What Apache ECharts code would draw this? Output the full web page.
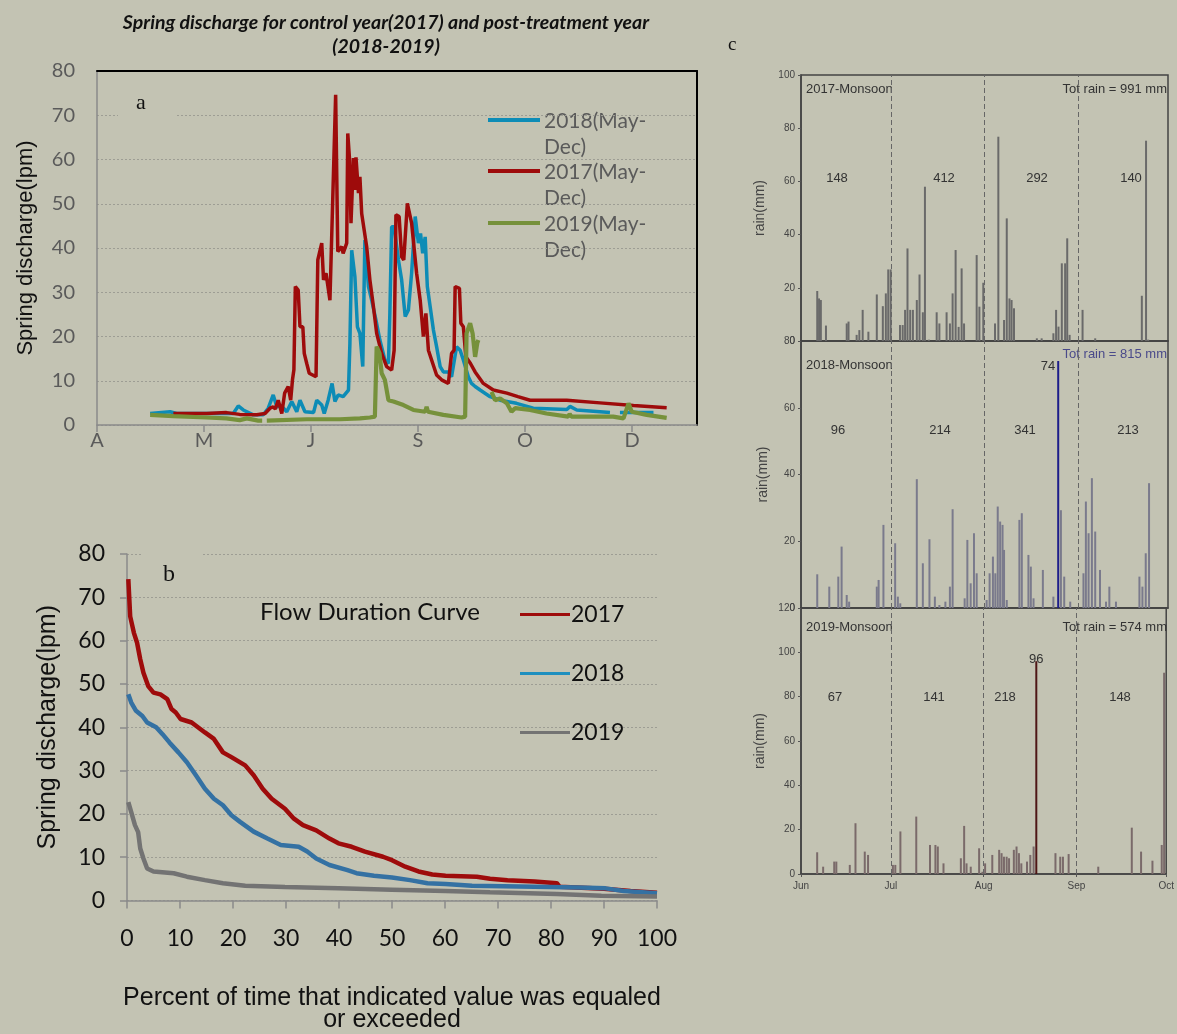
<!DOCTYPE html>
<html>
<head>
<meta charset="utf-8">
<script src="https://cdn.jsdelivr.net/npm/echarts@6/dist/echarts.min.js"></script>
<style>
  html, body { margin: 0; padding: 0; background: #c3c3b3; }
  #main { position: absolute; left: 0; top: 0; width: 1177px; height: 1034px; }
  #rain { position: absolute; left: 720px; top: 55px; width: 457px; height: 850px; filter: blur(0.6px); }
</style>
</head>
<body>
<div id="main"></div>
<div id="rain"></div>
<script>
// ---------- Panel a: daily spring discharge (lpm); x = days along the axis (30 per tick) ----------
const monthTicksA = ['A', 'M', 'J', 'S', 'O', 'D'];

const discharge2018 = [
  [14.9,2.6],[20.5,3.0],[22.3,2.6],[30.7,2.6],[38.2,2.6],[39.6,4.3],[41,3.4],[43.8,2.3],[46.6,2.3],[48,3.8],
  [49.4,6.8],[50.4,4.1],[51.5,4.5],[53.2,3.0],[54.6,5.3],[56,3.0],[56.9,5.6],[58.3,3.0],[60.7,2.8],[61.6,5.6],
  [63,4.5],[63.7,2.6],[64.8,5.6],[65.9,9.4],[66.7,5.3],[67.6,6.8],[69,6.4],[70.5,7.9],[70.9,18.5],[71.4,39.5],
  [72.3,33.5],[73,22.2],[73.7,20.7],[74.5,13.2],[75.1,41.8],[76.1,31.3],[77,28.2],[78.2,23.7],[79.3,19.2],[80.7,14.7],
  [81.7,13.9],[82.1,25.2],[82.6,44.8],[83.3,44.8],[84.5,37.3],[85.4,32.8],[86.4,24.5],[87.3,26],[88.2,34.3],[89.2,47.1],
  [90.1,41.1],[90.7,43.3],[91.3,38.8],[92,42.5],[92.6,31.3],[93.4,26.7],[94.3,21.5],[95.2,17.7],[96.2,13.2],[97.1,12],
  [98.5,12],[99.4,10.9],[100.8,17.7],[101.8,16.9],[102.7,14.7],[104.1,10.9],[105,9.4],[106,8.7],[107.4,7.9],[110.2,6.4],
  [113,5.6],[117.6,4.9],[122.3,3.8],[131.7,3.5],[132.6,4.2],[134.5,3.4],[141,3.0],[143.8,2.8],[145,'-'],[146.6,2.8],[156,2.8]
];

const discharge2017 = [
  [21.4,2.6],[30.7,2.6],[36.3,2.8],[40,2.4],[44.8,2.3],[47.1,2.6],[48.5,3.8],[49.4,4.1],[50,3.6],[50.8,5.6],
  [51.8,2.6],[52.6,7.2],[53.6,8.7],[54.3,5.6],[54.8,10.2],[55.2,12.5],[55.6,31.3],[56.4,30.5],[56.9,22.2],[57.7,22.2],
  [58.1,16.2],[58.8,13.9],[59.5,11.7],[61.4,10.9],[61.9,37.3],[62.4,37.5],[63,41.1],[63.5,32.8],[64.2,34.3],[65.3,28.2],
  [66.9,74.6],[67.5,39.2],[68.6,40.3],[69,38.8],[70,41.1],[70.3,65.9],[70.8,60],[71.2,45.6],[71.9,60.3],[72.3,53.1],
  [72.6,60.5],[73.3,52.4],[73.7,56.1],[74.2,47.8],[75.6,40.3],[76.5,32.8],[77.5,26.7],[78.4,20.7],[79.8,16.2],[81.2,13.2],
  [82.6,12.4],[83.3,16.9],[83.8,47.5],[84.7,47.1],[85.4,38],[86,37.3],[87,50.1],[88.2,45.6],[89.6,34.3],[90.6,28.2],
  [91.5,20],[92.2,25.2],[92.9,16.9],[93.8,14.7],[95.2,11.3],[96.6,10.2],[98.5,9.4],[99.4,16.2],[100.1,16.9],[100.4,31.3],
  [101.6,30.9],[102,23],[102.7,22.2],[103.4,15.4],[104.7,13.9],[106,12],[108.3,9.4],[111.1,7.9],[114.9,7.2],[118,6.4],
  [121.4,5.6],[131.7,5.6],[141,5.0],[150.4,4.4],[159.7,3.9]
];

const discharge2019 = [
  [14.9,2.3],[21.4,2.0],[30.7,1.7],[36.3,1.5],[40,1.1],[42,1.5],[45.2,1.0],[46.3,1.0],[47,'-'],[47.6,1.0],
  [58.8,1.3],[68.1,1.3],[73.7,1.5],[76.5,1.7],[77.9,1.9],[78.4,17.7],[79.2,16.2],[79.8,11.7],[80.7,10.2],[81.7,5.6],
  [83.1,5.3],[85.9,4.5],[88.7,3.4],[92,3.0],[92.4,4.1],[92.8,3.0],[97.1,2.3],[102.2,1.7],[103.2,1.9],[103.6,20.7],
  [104.6,23],[105.3,20.7],[106,15.4],[106.6,18.5],[106.9,19.2],[108,'-'],[110.6,7.5],[111.6,5.6],[113,6.0],[114.9,4.9],
  [116.2,3.0],[117.2,3.8],[121.4,3.4],[126,2.6],[132.1,1.9],[132.5,2.5],[133,1.9],[144.7,1.9],[147.6,1.5],[149,4.9],
  [149.9,3.0],[154.1,2.3],[159.7,1.6]
];

// ---------- Panel b: flow duration curves (percent of time exceeded, lpm) ----------
const fdc2017 = [
  [0.25,74.2],[0.6,65.6],[1.3,61.8],[1.9,59.5],[2.5,55.7],[3.1,52.6],[4,49.5],[5,48],[6.3,47.6],[7.6,46.5],
  [8.4,44.2],[9.2,43.4],[10.1,41.9],[12.2,41.1],[14.7,38.8],[16.4,37.3],[18.1,34.2],[19.7,33.1],[22.3,31.2],[23.9,28.9],
  [25.6,25.8],[27.3,23.5],[29.8,21.2],[31.5,18.9],[33.2,17.4],[35.7,16.2],[38.2,14.3],[39.9,13.2],[42.4,12.4],[44.9,11.3],
  [48.3,10.1],[50,9.3],[52.5,7.8],[55,6.7],[57.6,6.0],[60.1,5.7],[66,5.5],[68.5,5.0],[71.8,4.7],[76.9,4.4],
  [81.1,4.0],[81.6,3.2],[90,2.7],[95,2.2],[100,1.8]
];
const fdc2018 = [
  [0.25,47.6],[0.8,45.7],[1.7,43.8],[2.9,42.6],[3.8,41.1],[5.5,40],[6.7,38.4],[8,36.5],[9.7,34.2],[11.3,31.9],
  [13,28.9],[14.7,25.8],[16.4,23.5],[18.1,22],[19.7,19.7],[21.4,18.1],[23.9,15.9],[26.5,14.3],[29,12.8],[32.4,12.4],
  [34,11.3],[35.7,9.7],[38.2,8.2],[41.6,7.0],[43.3,6.3],[46.6,5.7],[50,5.3],[53.4,4.7],[56.7,4.0],[60.1,3.8],
  [65.1,3.4],[76.9,3.2],[85.3,3.0],[90.3,2.8],[93.7,2.2],[100,1.7]
];
const fdc2019 = [
  [0.25,22.7],[0.8,20.4],[1.5,17.4],[2.1,15.8],[2.5,12],[3.1,9.7],[3.8,7.4],[5,6.7],[8.8,6.3],[11.3,5.5],
  [14.7,4.7],[18.1,4.0],[22.3,3.4],[29.8,3.1],[39.9,2.8],[50,2.5],[60.1,2.2],[68.5,1.9],[81.1,1.5],[89.5,1.1],[100,0.9]
];

// ---------- Panel c: daily monsoon rainfall (mm); x = days from 1 June ----------
const rainMonths = ['Jun', 'Jul', 'Aug', 'Sep', 'Oct'];
const rainMonthStart = [0, 30, 61, 92, 122];

const rain2017 = [
  [5.4,18.8],[6,16],[6.6,15.4],[8.3,5.8],[15.2,6.6],[15.8,7.3],[18.5,2.3],[19.4,4.1],[20.5,11.7],[22.4,3.5],
  [25.2,17.5],[27.2,13.1],[28.2,17.9],[29,26.9],[29.8,26.9],[32.9,6],[33.8,6],[34.6,11.7],[35.4,34.8],[36.3,11.7],
  [37.2,11.7],[38.5,15.4],[39.4,25],[40.5,10.8],[41.2,58],[42.5,0.5],[45.1,10.8],[46,6.6],[48.4,10.8],[49.5,6.6],
  [50.4,17.9],[51.4,34.2],[52.4,5.3],[53.4,27.3],[54.2,6.6],[58.4,32.3],[59.3,12.9],[60.6,21.9],[64.5,6.6],[65.6,76.8],
  [67.5,7.9],[68.4,46.1],[69.3,16],[70,15.4],[70.8,12.3],[78.4,1],[80,1],[83.9,2.9],[84.8,11.7],[85.6,5.4],
  [86.7,29.2],[87.8,29.2],[88.5,38.6],[89.3,2.3],[93.6,11.7],[97.8,1],[113.3,17],[114.7,75.3],[115.4,0.5]
];
const rain2018 = [
  [5.4,10.1],[9.4,6.4],[12.4,9.4],[13.5,18.4],[15.2,3.9],[16,1.9],[25.2,6.4],[25.8,8.4],[27.4,24.9],[31.3,19.4],
  [32.2,3.4],[33,1.4],[38.5,38.6],[40.5,13.4],[42.7,20.6],[44.5,3.4],[46,0.9],[48,1.9],[49.5,6.4],[50.4,29.6],
  [54.4,2.9],[55.3,20.4],[56.4,7.4],[57.5,22.4],[58.4,10.4],[61.7,2.4],[62.7,10.4],[63.8,15.4],[64.6,10.4],[65.4,30.4],
  [66.2,25.9],[67,24.9],[67.5,17.4],[68.4,2.4],[72.6,26.4],[73.4,28.4],[75.6,15.9],[76.4,12.4],[77.3,2.9],[80.4,11.4],
  [83.9,3.4],[85.5,74],[86.4,29.3],[87.5,9.4],[89.5,1.9],[93.9,10.4],[94.7,31.9],[95.6,22.4],[96.7,38.9],[97.8,22.9],
  [99.4,11.4],[101.4,1.9],[102.5,6.4],[104.7,1.9],[112.5,9.4],[113.5,6.4],[114.6,16.4],[115.7,37.4]
];
const rain2019 = [
  [5.4,9.8],[7.4,3.3],[11.1,5.6],[11.8,5.6],[16.3,4.1],[18.2,22.9],[21.3,10.1],[22.4,8.6],[30.7,4.1],[31.5,4.1],
  [33.2,19.2],[38.5,25.9],[43.1,13.1],[44.9,13.1],[45.7,12.4],[47.6,4.8],[53.4,7.1],[54.5,21.7],[55.3,4.8],[56.7,3.3],
  [59.5,11.6],[60.6,1],[61.5,4.8],[63.9,8.6],[66.2,10.9],[67,9.4],[67.8,7.8],[68.7,7.8],[69.5,7.1],[71.1,10.9],
  [72,12.4],[72.8,9.4],[73.6,4.8],[75.5,5.6],[76.6,8.6],[77.7,12.4],[78.6,96],[85,9.4],[86.6,7.8],[87.5,7.8],
  [89.4,9],[99.3,3.3],[110.5,20.9],[113.6,10.1],[117.4,6],[120.5,13.1],[121.3,90.8]
];

const monsoonYears = ['2017', '2018', '2019'];
const seasonTotals = [991, 815, 574];
const monthTotals2017 = [148, 412, 292, 140];
const monthTotals2018 = [96, 214, 341, 213];
const monthTotals2019 = [67, 141, 218, 148];

// ---------- styling ----------
const CAL = 'Lato, "Open Sans", sans-serif';
const ARIAL = '"Liberation Sans", Arial, sans-serif';
const SERIF = '"Liberation Serif", "DejaVu Serif", serif';
const BG = '#c3c3b3';
const RED = '#9e0b0b', BLUE_A = '#0d8cb6', GREEN = '#76913b';
const BLUE_B = '#3471a3', GRAY_B = '#737373';
const GRID_LINE = { show: true, lineStyle: { color: '#9d9d94', type: [2, 2], width: 1 } };

const main = echarts.init(document.getElementById('main'));

main.setOption({
  animation: false,
  backgroundColor: BG,
  grid: [
    { left: 97, top: 71, width: 600, height: 354 },
    { left: 127, top: 554, width: 530, height: 348 }
  ],
  xAxis: [
    { gridIndex: 0, type: 'value', min: 0, max: 168.2, interval: 30,
      axisLine: { onZero: false, lineStyle: { color: '#8a8a8a', width: 1.5 } },
      axisTick: { show: true, length: 7, lineStyle: { color: '#8a8a8a', width: 1.5 } },
      axisLabel: { color: '#5a5a5a', fontSize: 20, fontFamily: CAL, margin: 6, showMaxLabel: false,
        formatter: v => (v % 30 === 0 ? (monthTicksA[v / 30] || '') : '') },
      splitLine: { show: false } },
    { gridIndex: 0, type: 'value', position: 'top', min: 0, max: 168.2,
      axisLine: { onZero: false, lineStyle: { color: '#000', width: 2 } }, axisTick: { show: false },
      axisLabel: { show: false }, splitLine: { show: false } },
    { gridIndex: 1, type: 'value', min: 0, max: 100, interval: 10,
      axisLine: { onZero: false, lineStyle: { color: '#8a8a8a', width: 1.5 } },
      axisTick: { show: true, length: 8, lineStyle: { color: '#8a8a8a', width: 1.5 } },
      axisLabel: { color: '#111', fontSize: 23, fontFamily: CAL, margin: 27 },
      splitLine: { show: false },
      name: 'Percent of time that indicated value was equaled\nor exceeded',
      nameLocation: 'middle', nameGap: 87,
      nameTextStyle: { color: '#111', fontSize: 25, fontFamily: ARIAL, lineHeight: 22 } }
  ],
  yAxis: [
    { gridIndex: 0, type: 'value', min: 0, max: 80, interval: 10,
      axisLine: { show: true, onZero: false, lineStyle: { color: '#8a8a8a', width: 1.5 } }, axisTick: { show: false },
      axisLabel: { color: '#5a5a5a', fontSize: 20, fontFamily: CAL, margin: 22 },
      splitLine: GRID_LINE,
      name: 'Spring discharge(lpm)', nameLocation: 'middle', nameGap: 60,
      nameTextStyle: { color: '#111', fontSize: 22, fontFamily: ARIAL } },
    { gridIndex: 0, type: 'value', position: 'right', min: 0, max: 80,
      axisLine: { show: true, onZero: false, lineStyle: { color: '#000', width: 2 } }, axisTick: { show: false },
      axisLabel: { show: false }, splitLine: { show: false } },
    { gridIndex: 1, type: 'value', min: 0, max: 80, interval: 10,
      axisLine: { show: true, onZero: false, lineStyle: { color: '#8a8a8a', width: 1.5 } },
      axisTick: { show: true, length: 7, lineStyle: { color: '#8a8a8a', width: 1.5 } },
      axisLabel: { color: '#111', fontSize: 23, fontFamily: CAL, margin: 22 },
      splitLine: GRID_LINE,
      name: 'Spring discharge(lpm)', nameLocation: 'middle', nameGap: 66,
      nameTextStyle: { color: '#111', fontSize: 25, fontFamily: ARIAL } }
  ],
  legend: {
    data: [
      { name: '2017' },
      { name: '2018', itemStyle: { color: '#1e8fbf' }, lineStyle: { color: '#1e8fbf' } },
      { name: '2019' }
    ],
    orient: 'vertical', left: 515, top: 598, itemWidth: 50, itemHeight: 14, itemGap: 36,
    icon: 'path://M0,6 L50,6 L50,9 L0,9 Z',
    textStyle: { color: '#111', fontSize: 23, fontFamily: CAL, padding: [0, 0, 0, -4] },
    selectedMode: false
  },
  series: [
    { name: '2018(May-Dec)', type: 'line', xAxisIndex: 0, yAxisIndex: 0, data: discharge2018,
      showSymbol: false, lineStyle: { color: BLUE_A, width: 3.5 }, itemStyle: { color: BLUE_A } },
    { name: '2017(May-Dec)', type: 'line', xAxisIndex: 0, yAxisIndex: 0, data: discharge2017,
      showSymbol: false, lineStyle: { color: RED, width: 3.5 }, itemStyle: { color: RED } },
    { name: '2019(May-Dec)', type: 'line', xAxisIndex: 0, yAxisIndex: 0, data: discharge2019,
      showSymbol: false, lineStyle: { color: GREEN, width: 4.2 }, itemStyle: { color: GREEN } },
    { name: '2017', type: 'line', xAxisIndex: 2, yAxisIndex: 2, data: fdc2017,
      showSymbol: false, lineStyle: { color: RED, width: 4.5 }, itemStyle: { color: RED } },
    { name: '2018', type: 'line', xAxisIndex: 2, yAxisIndex: 2, data: fdc2018,
      showSymbol: false, lineStyle: { color: BLUE_B, width: 4.5 }, itemStyle: { color: BLUE_B } },
    { name: '2019', type: 'line', xAxisIndex: 2, yAxisIndex: 2, data: fdc2019,
      showSymbol: false, lineStyle: { color: GRAY_B, width: 4.5 }, itemStyle: { color: GRAY_B } }
  ],
  graphic: [
    { type: 'text', x: 386, y: 11, z: 10,
      style: { text: 'Spring discharge for control year(2017) and post-treatment year\n(2018-2019)',
        align: 'center', fill: '#111', font: 'italic bold 19.5px ' + CAL, lineHeight: 24 } },
    // panel letters sit on small boxes that hide the grid lines beneath them
    { type: 'rect', shape: { x: 118, y: 88, width: 58, height: 30 }, style: { fill: BG }, z: 5 },
    { type: 'text', x: 136, y: 92, z: 6, style: { text: 'a', fill: '#111', font: '22px ' + SERIF } },
    { type: 'rect', shape: { x: 143, y: 548, width: 60, height: 44 }, style: { fill: BG }, z: 5 },
    { type: 'text', x: 163, y: 563, z: 6, style: { text: 'b', fill: '#111', font: '24px ' + SERIF } },
    { type: 'text', x: 728, y: 36, z: 6, style: { text: 'c', fill: '#111', font: '19px ' + SERIF } },
    // panel a key
    { type: 'line', shape: { x1: 488, y1: 120, x2: 540, y2: 120 }, style: { stroke: BLUE_A, lineWidth: 4 } },
    { type: 'text', x: 544, y: 108, style: { text: '2018(May-\nDec)', fill: '#5a5a5a', font: '21px ' + CAL, lineHeight: 26 } },
    { type: 'line', shape: { x1: 488, y1: 171, x2: 540, y2: 171 }, style: { stroke: RED, lineWidth: 4 } },
    { type: 'text', x: 544, y: 159, style: { text: '2017(May-\nDec)', fill: '#5a5a5a', font: '21px ' + CAL, lineHeight: 26 } },
    { type: 'line', shape: { x1: 488, y1: 223, x2: 540, y2: 223 }, style: { stroke: GREEN, lineWidth: 4 } },
    { type: 'text', x: 544, y: 211, style: { text: '2019(May-\nDec)', fill: '#5a5a5a', font: '21px ' + CAL, lineHeight: 26 } },
    { type: 'text', x: 370, y: 612, style: { text: 'Flow Duration Curve', align: 'center', verticalAlign: 'middle', fill: '#111', font: '24px ' + CAL } }
  ]
});

// ---------- rainfall panel ----------
const rain = echarts.init(document.getElementById('rain'));
const rainSets = [rain2017, rain2018, rain2019];
const rainMax = [100, 80, 120];
const rainGrids = [
  { left: 81, right: 9, top: 20, height: 266 },
  { left: 81, right: 9, top: 286, height: 267 },
  { left: 81, right: 9, top: 553, height: 266 }
];
const peakColors = ['#4a4a4a', '#1d1d8a', '#4e1616'];
const barColors = ['#6a6a6a', '#7a7a8c', '#7a6a6a'];

function rainXAxis(i) {
  return {
    gridIndex: i, type: 'value', min: 0, max: 122,
    axisLine: { onZero: false, lineStyle: { color: '#444', width: 1.5 } },
    axisTick: { show: i === 2, length: 3, customValues: rainMonthStart, lineStyle: { color: '#555' } },
    axisLabel: { show: i === 2, customValues: rainMonthStart, color: '#444', fontSize: 10, fontFamily: ARIAL, margin: 7,
      formatter: v => rainMonths[rainMonthStart.indexOf(v)] || '' },
    splitLine: { show: false }
  };
}
function rainYAxis(i) {
  return {
    gridIndex: i, type: 'value', min: 0, max: rainMax[i], interval: 20,
    axisLine: { show: true, onZero: false, lineStyle: { color: '#444', width: 1.5 } },
    axisTick: { show: true, length: 3, lineStyle: { color: '#555' } },
    axisLabel: { color: '#444', fontSize: 10, fontFamily: ARIAL, margin: 6 },
    splitLine: { show: false },
    name: 'rain(mm)', nameLocation: 'middle', nameGap: 31,
    nameTextStyle: { color: '#444', fontSize: 14, fontFamily: ARIAL }
  };
}
function rainSeries(i) {
  const data = rainSets[i];
  const peak = Math.max(...data.map(d => d[1]));
  return {
    type: 'bar', xAxisIndex: i, yAxisIndex: i, data: data, barWidth: 2, barGap: '-100%',
    itemStyle: { color: p => (p.value[1] === peak && i > 0 ? peakColors[i] : barColors[i]) },
    label: { show: i > 0, position: i === 1 ? [-2, 5] : 'top', align: i === 1 ? 'right' : 'center',
      verticalAlign: 'middle', distance: 2, color: '#333', fontSize: 13, fontFamily: ARIAL,
      formatter: p => (p.value[1] === peak ? String(p.value[1]) : '') },
    markLine: { silent: true, symbol: 'none', label: { show: false },
      lineStyle: { color: '#666', type: [5, 3], width: 1 },
      data: rainMonthStart.slice(1, 4).map(d => ({ xAxis: d })) }
  };
}

const totals = [monthTotals2017, monthTotals2018, monthTotals2019];
const totalX = [[117, 224, 317, 411], [118, 220, 305, 408], [115, 214, 285, 400]];
const totalY = [123, 375, 642];
const headerY = [35, 311, 573];
const rainGraphics = [];
for (let i = 0; i < 3; i++) {
  rainGraphics.push({ type: 'text', x: 86, y: headerY[i] - 7,
    style: { text: monsoonYears[i] + '-Monsoon', fill: '#333', font: '13px ' + ARIAL } });
  rainGraphics.push({ type: 'text', x: 447, y: headerY[i] - 7 - (i === 1 ? 11 : 0),
    style: { text: 'Tot rain = ' + seasonTotals[i] + ' mm', align: 'right', fill: i === 1 ? '#4a4a8a' : '#333', font: '13px ' + ARIAL } });
  totals[i].forEach((t, k) => rainGraphics.push({ type: 'text', x: totalX[i][k], y: totalY[i],
    style: { text: String(t), align: 'center', verticalAlign: 'middle', fill: '#333', font: '13px ' + ARIAL } }));
}

rain.setOption({
  animation: false,
  backgroundColor: 'transparent',
  grid: rainGrids.map(g => Object.assign({ show: true, borderColor: '#444', borderWidth: 1.5 }, g)),
  xAxis: [0, 1, 2].map(rainXAxis),
  yAxis: [0, 1, 2].map(rainYAxis),
  series: [0, 1, 2].map(rainSeries),
  graphic: rainGraphics
});
</script>
</body>
</html>
